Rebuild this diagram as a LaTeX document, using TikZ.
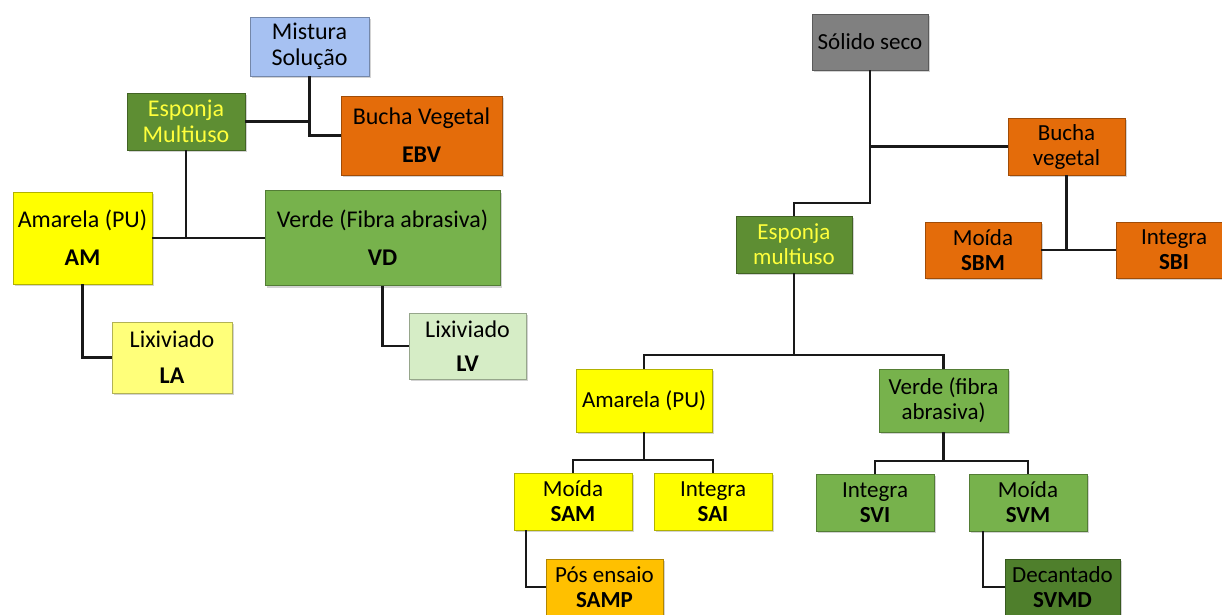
\documentclass[tikz,border=0pt]{standalone}
\usepackage{fontspec}
\setmainfont{Carlito}
\usepackage{xcolor}
\usepackage{tikz}
\usetikzlibrary{calc,shadows}
\definecolor{cBlue}{HTML}{A6C1F2}
\definecolor{cDark}{HTML}{5E8E33}
\definecolor{cOrange}{HTML}{E46C0A}
\definecolor{cYellow}{HTML}{FFFF00}
\definecolor{cLightY}{HTML}{FFFF7A}
\definecolor{cGreen}{HTML}{77B24C}
\definecolor{cLightG}{HTML}{D6EDC6}
\definecolor{cGray}{HTML}{808080}
\definecolor{cGold}{HTML}{FFC000}
\definecolor{cDeep}{HTML}{4F7F2C}
\definecolor{cText}{HTML}{FFFF3C}
\tikzset{
  tbox/.style={draw=#1!70!black,fill=#1,line width=0.8pt,align=center,inner sep=0pt,
    text=black,drop shadow={shadow xshift=2pt,shadow yshift=-2pt,opacity=0.35}},
  tbox/.default=cYellow,
  bigf/.style={font=\fontsize{24}{26}\selectfont},
  smallf/.style={font=\fontsize{23}{25}\selectfont},
  conn/.style={line width=2.2pt,black!90},
}

\begin{document}
\begin{tikzpicture}[x=1pt,y=-1pt]
  \useasboundingbox (0,0) rectangle (1222,614);
  % left tree
  \node[tbox=cBlue,bigf,minimum width=119pt,minimum height=59pt] (mist) at (309.5,46.5) {Mistura\\Solução};
  \node[tbox=cDark,bigf,text=cText,minimum width=118pt,minimum height=57pt] (espL) at (186,121.5) {Esponja\\Multiuso};
  \node[tbox=cOrange,bigf,minimum width=161pt,minimum height=79pt] (buchaL) at (421.5,135.5) {Bucha Vegetal\\[12pt]\textbf{EBV}};
  \node[tbox=cYellow,bigf,minimum width=139pt,minimum height=92pt] (amL) at (82.5,238) {Amarela (PU)\\[12pt]\textbf{AM}};
  \node[tbox=cGreen,bigf,minimum width=235pt,minimum height=95pt] (vdL) at (382.5,238) {Verde (Fibra abrasiva)\\[12pt]\textbf{VD}};
  \node[tbox=cLightY,bigf,minimum width=120pt,minimum height=71pt] (la) at (172,357.5) {Lixiviado\\[10pt]\textbf{LA}};
  \node[tbox=cLightG,bigf,minimum width=117pt,minimum height=66pt] (lv) at (467.5,346) {Lixiviado\\[8pt]\textbf{LV}};
  \draw[conn] (mist.south) |- (buchaL.west);
  \draw[conn] (espL.east) -- (espL.east -| mist.south);
  \draw[conn] (espL.south) -- (espL.south |- amL.east);
  \draw[conn] (amL.east) -- (vdL.west);
  \draw[conn] (amL.south) |- (la.west);
  \draw[conn] (vdL.south) |- (lv.west);
  % right tree
  \node[tbox=cGray,smallf,minimum width=116pt,minimum height=56pt] (solido) at (870,42) {Sólido seco};
  \node[tbox=cOrange,smallf,minimum width=117pt,minimum height=57pt] (buchaR) at (1066.5,146.5) {Bucha\\vegetal};
  \node[tbox=cDark,smallf,text=cText,minimum width=116pt,minimum height=57pt] (espR) at (794,244.5) {Esponja\\multiuso};
  \node[tbox=cOrange,smallf,minimum width=116pt,minimum height=56pt] (sbm) at (983,250) {Moída\\\textbf{SBM}};
  \node[tbox=cOrange,smallf,minimum width=116pt,minimum height=56pt] (sbi) at (1174,250) {Integra\\\textbf{SBI}};
  \node[tbox=cYellow,smallf,minimum width=136pt,minimum height=63pt] (amR) at (644,400.5) {Amarela (PU)};
  \node[tbox=cGreen,smallf,minimum width=129pt,minimum height=63pt] (vdR) at (943.5,400.5) {Verde (fibra\\abrasiva)};
  \node[tbox=cYellow,smallf,minimum width=118pt,minimum height=57pt] (sam) at (573,501.5) {Moída\\\textbf{SAM}};
  \node[tbox=cYellow,smallf,minimum width=118pt,minimum height=57pt] (sai) at (713,501.5) {Integra\\\textbf{SAI}};
  \node[tbox=cGreen,smallf,minimum width=118pt,minimum height=57pt] (svi) at (875,502.5) {Integra\\\textbf{SVI}};
  \node[tbox=cGreen,smallf,minimum width=118pt,minimum height=57pt] (svm) at (1028,502.5) {Moída\\\textbf{SVM}};
  \node[tbox=cGold,smallf,minimum width=117pt,minimum height=56pt] (samp) at (604.5,587) {Pós ensaio\\\textbf{SAMP}};
  \node[tbox=cDeep,smallf,minimum width=115pt,minimum height=56pt] (svmd) at (1062.5,587) {Decantado\\\textbf{SVMD}};
  \coordinate (jS) at (870,203);
  \coordinate (jE) at (794,355);
  \coordinate (jA) at (644,460);
  \coordinate (jV) at (943.5,461);
  \draw[conn] (solido.south) |- (buchaR.west);
  \draw[conn] (solido.south) -- (jS) -| (espR.north);
  \draw[conn] (buchaR.south) -- (buchaR.south |- sbm.east);
  \draw[conn] (sbm.east) -- (sbi.west);
  \draw[conn] (espR.south) -- (jE);
  \draw[conn] (amR.north) |- (jE) -| (vdR.north);
  \draw[conn] (amR.south) -- (jA);
  \draw[conn] (sam.north) |- (jA) -| (sai.north);
  \draw[conn] (vdR.south) -- (jV);
  \draw[conn] (svi.north) |- (jV) -| (svm.north);
  \draw[conn] ([xshift=12pt]sam.south west) |- (samp.west);
  \draw[conn] ([xshift=14pt]svm.south west) |- (svmd.west);
\end{tikzpicture}
\end{document}
